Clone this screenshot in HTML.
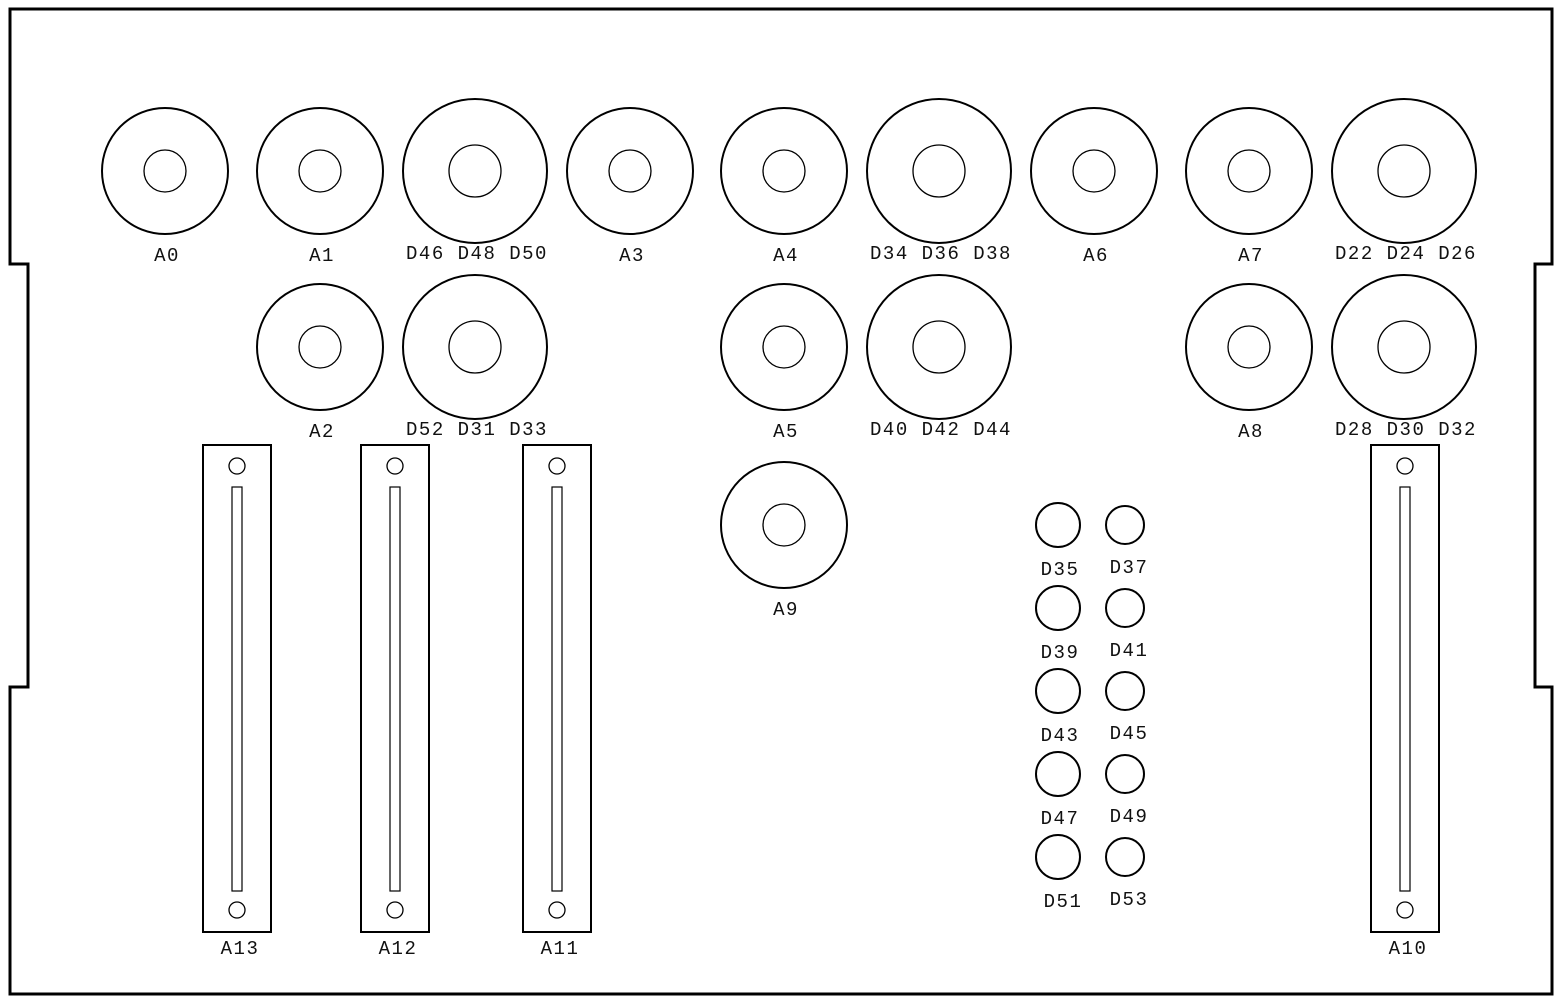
<!DOCTYPE html>
<html><head><meta charset="utf-8"><style>
html,body{margin:0;padding:0;background:#fff}
svg{display:block}
text{font-family:"Liberation Mono",monospace;font-size:19px;letter-spacing:1.5px;fill:#111;text-anchor:middle}
</style></head><body>
<svg id="s" width="1562" height="1004" viewBox="0 0 1562 1004">
<path d="M10,9 H1552 V264 H1535 V687 H1552 V994 H10 V687 H28 V264 H10 Z" fill="none" stroke="#000" stroke-width="3"/>
</svg>
<script>
const bigConnectorNames=["A0","A1","D46 D48 D50","A3","A4","D34 D36 D38","A6","A7","D22 D24 D26","A2","D52 D31 D33","A5","D40 D42 D44","A8","D28 D30 D32","A9"];
const bigConnectorX=[165,320,475,630,784,939,1094,1249,1404,320,475,784,939,1249,1404,784];
const bigConnectorY=[171,171,171,171,171,171,171,171,171,347,347,347,347,347,347,525];
const bigConnectorLarge=[0,0,1,0,0,1,0,0,1,0,1,0,1,0,1,0];
const slotNames=["A13","A12","A11","A10"];
const slotX=[237,395,557,1405];
const smallLeftNames=["D35","D39","D43","D47","D51"];
const smallRightNames=["D37","D41","D45","D49","D53"];
const smallRowY=[525,608,691,774,857];
const NS="http://www.w3.org/2000/svg";
const s=document.getElementById('s');
function mk(tag,attrs){const e=document.createElementNS(NS,tag);for(const k in attrs)e.setAttribute(k,attrs[k]);s.appendChild(e);return e;}
bigConnectorNames.forEach((n,i)=>{
  const L=bigConnectorLarge[i];const cx=bigConnectorX[i],cy=bigConnectorY[i];
  const R=L?72:63,r=L?26:21;
  const o=mk('circle',{cx:cx,cy:cy,r:R,fill:'none',stroke:'#000','stroke-width':2});
  
  
  const c=mk('circle',{cx:cx,cy:cy,r:r,fill:'none',stroke:'#000','stroke-width':1.3});
  
  
  const t=mk('text',{x:cx+2,y:cy+(L?88:90)});t.textContent=n;
  
  
});
slotNames.forEach((n,i)=>{
  const x=slotX[i];
  const r=mk('rect',{x:x-34,y:445,width:68,height:487,fill:'none',stroke:'#000','stroke-width':2});
  
  
  const sl=mk('rect',{x:x-5,y:487,width:10,height:404,fill:'none',stroke:'#000','stroke-width':1.2});
  
  
  [466,910].forEach(y=>{const h=mk('circle',{cx:x,cy:y,r:8,fill:'none',stroke:'#000','stroke-width':1.3});
    
    });
  const t=mk('text',{x:x+3,y:954});t.textContent=n;
  
  
});
smallRowY.forEach((y,i)=>{
  const a=mk('circle',{cx:1058,cy:y,r:22,fill:'none',stroke:'#000','stroke-width':2});
  
  
  const b=mk('circle',{cx:1125,cy:y,r:19,fill:'none',stroke:'#000','stroke-width':2});
  
  
  const t1=mk('text',{x:i==4?1063:1060,y:y+50});t1.textContent=smallLeftNames[i];
  
  
  const t2=mk('text',{x:1129,y:y+48});t2.textContent=smallRightNames[i];
  
  
});
</script>
</body></html>
